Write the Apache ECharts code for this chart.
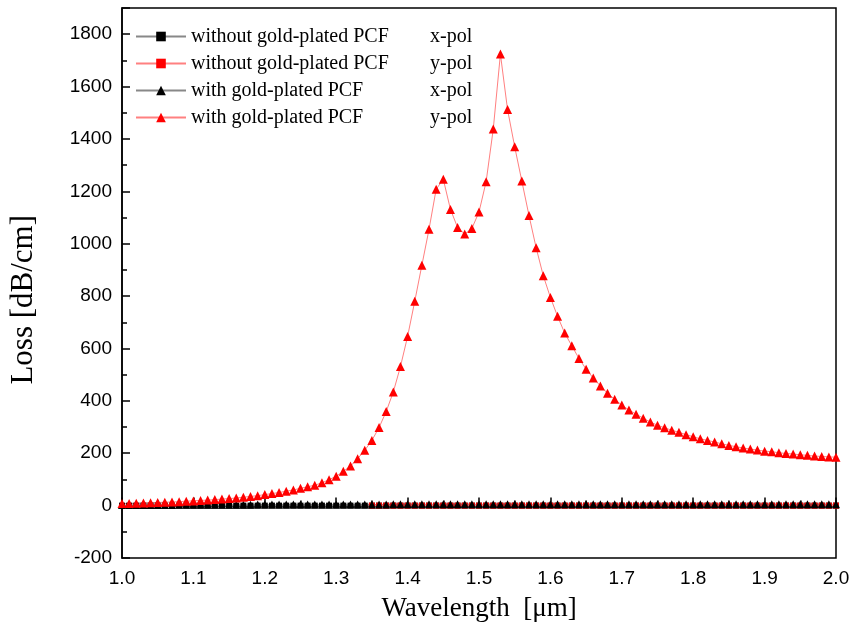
<!DOCTYPE html>
<html>
<head>
<meta charset="utf-8">
<script src="https://cdn.jsdelivr.net/npm/echarts@6/dist/echarts.min.js"></script>
<style>
  html, body { margin: 0; padding: 0; background: #fff; }
  #echart_show { width: 862px; height: 634px; }
</style>
</head>
<body>
<div id="echart_show"></div>
<script>
// wavelength (um), step 0.01
var wavelength = [
  1.00, 1.01, 1.02, 1.03, 1.04, 1.05, 1.06, 1.07, 1.08, 1.09,
  1.10, 1.11, 1.12, 1.13, 1.14, 1.15, 1.16, 1.17, 1.18, 1.19,
  1.20, 1.21, 1.22, 1.23, 1.24, 1.25, 1.26, 1.27, 1.28, 1.29,
  1.30, 1.31, 1.32, 1.33, 1.34, 1.35, 1.36, 1.37, 1.38, 1.39,
  1.40, 1.41, 1.42, 1.43, 1.44, 1.45, 1.46, 1.47, 1.48, 1.49,
  1.50, 1.51, 1.52, 1.53, 1.54, 1.55, 1.56, 1.57, 1.58, 1.59,
  1.60, 1.61, 1.62, 1.63, 1.64, 1.65, 1.66, 1.67, 1.68, 1.69,
  1.70, 1.71, 1.72, 1.73, 1.74, 1.75, 1.76, 1.77, 1.78, 1.79,
  1.80, 1.81, 1.82, 1.83, 1.84, 1.85, 1.86, 1.87, 1.88, 1.89,
  1.90, 1.91, 1.92, 1.93, 1.94, 1.95, 1.96, 1.97, 1.98, 1.99,
  2.00
];

// without gold-plated PCF, x-pol
var noGoldX = [
  0, 0, 0, 0, 0, 0, 0, 0, 0, 0,
  0, 0, 0, 0, 0, 0, 0, 0, 0, 0,
  0, 0, 0, 0, 0, 0, 0, 0, 0, 0,
  0, 0, 0, 0, 0, 0, 0, 0, 0, 0,
  0, 0, 0, 0, 0, 0, 0, 0, 0, 0,
  0, 0, 0, 0, 0, 0, 0, 0, 0, 0,
  0, 0, 0, 0, 0, 0, 0, 0, 0, 0,
  0, 0, 0, 0, 0, 0, 0, 0, 0, 0,
  0, 0, 0, 0, 0, 0, 0, 0, 0, 0,
  0, 0, 0, 0, 0, 0, 0, 0, 0, 0,
  0
];

// without gold-plated PCF, y-pol (only seen from 1.35 on)
var noGoldY = [
  null, null, null, null, null, null, null, null, null, null,
  null, null, null, null, null, null, null, null, null, null,
  null, null, null, null, null, null, null, null, null, null,
  null, null, null, null, null, 0, 0, 0, 0, 0,
  0, 0, 0, 0, 0, 0, 0, 0, 0, 0,
  0, 0, 0, 0, 0, 0, 0, 0, 0, 0,
  0, 0, 0, 0, 0, 0, 0, 0, 0, 0,
  0, 0, 0, 0, 0, 0, 0, 0, 0, 0,
  0, 0, 0, 0, 0, 0, 0, 0, 0, 0,
  0, 0, 0, 0, 0, 0, 0, 0, 0, 0,
  0
];

// with gold-plated PCF, x-pol
var goldX = [
  2, 2, 2, 2, 2, 2, 2, 2, 3, 3,
  3, 3, 3, 3, 3, 3, 3, 3, 3, 4,
  4, 4, 4, 4, 4, 4, 4, 4, 4, 4,
  4, 4, 4, 4, 4, 4, 4, 4, 5, 5,
  5, 5, 5, 5, 5, 5, 5, 5, 5, 5,
  5, 5, 5, 5, 5, 5, 5, 5, 5, 5,
  5, 5, 5, 5, 5, 5, 5, 5, 5, 5,
  5, 5, 5, 5, 5, 5, 5, 5, 5, 5,
  5, 5, 5, 5, 5, 5, 5, 5, 5, 5,
  5, 5, 5, 5, 5, 5, 5, 5, 5, 5,
  5
];

// with gold-plated PCF, y-pol
var goldY = [
  8, 8, 9, 10, 11, 12, 13, 14, 15, 17,
  18, 20, 21, 23, 25, 27, 29, 32, 35, 38,
  42, 46, 50, 55, 60, 66, 72, 78, 87, 99,
  112, 131, 151, 179, 211, 249, 298, 359, 434, 531,
  646, 780, 918, 1055, 1208, 1246, 1131, 1062, 1037, 1058,
  1121, 1237, 1438, 1724, 1512, 1370, 1239, 1108, 985, 878,
  795, 723, 659, 610, 562, 521, 487, 457, 429, 406,
  384, 365, 349, 334, 319, 307, 297, 288, 280, 271,
  263, 255, 249, 243, 236, 230, 225, 220, 216, 212,
  208, 206, 202, 199, 197, 194, 192, 189, 188, 186,
  185
];

var seriesNames = [
  'without gold-plated PCF|x-pol',
  'without gold-plated PCF|y-pol',
  'with gold-plated PCF|x-pol',
  'with gold-plated PCF|y-pol'
];

var toPairs = function (vals) {
  return wavelength.map(function (x, i) { return [x, vals[i]]; });
};

var my_chart = echarts.init(document.getElementById('echart_show'));

var option = {
  backgroundColor: '#fff',
  animation: false,
  grid: {
    left: 122, right: 26, top: 8, bottom: 76,
    show: true, borderColor: '#000', borderWidth: 1.5
  },
  // y axis title, placed by hand so it sits where the original has it
  graphic: [
    {
      type: 'text',
      left: 8,
      top: 215,
      rotation: Math.PI / 2,
      style: {
        text: 'Loss [dB/cm]',
        fill: '#000',
        font: '31px "Liberation Serif"'
      }
    }
  ],
  legend: {
    left: 130, top: 21,
    orient: 'vertical',
    itemWidth: 50, itemHeight: 12,
    itemGap: 6,
    data: seriesNames,
    formatter: function (name) {
      var p = name.split('|');
      return '{a|' + p[0] + '}{b|' + p[1] + '}';
    },
    textStyle: {
      color: '#000',
      fontFamily: 'Liberation Serif',
      fontSize: 20,
      lineHeight: 21,
      rich: {
        a: { width: 239, fontFamily: 'Liberation Serif', fontSize: 20, color: '#000' },
        b: { fontFamily: 'Liberation Serif', fontSize: 20, color: '#000' }
      }
    }
  },
  xAxis: {
    type: 'value',
    min: 1.0, max: 2.0, interval: 0.1,
    name: 'Wavelength  [\u03bcm]',
    nameLocation: 'middle',
    nameGap: 37,
    nameTextStyle: { color: '#000', fontFamily: 'Liberation Serif', fontSize: 27 },
    axisLine: { lineStyle: { color: '#000', width: 1.5 } },
    axisTick: { inside: true, length: 8, lineStyle: { color: '#000', width: 1.5 } },
    minorTick: { show: true, splitNumber: 2, length: 5, lineStyle: { color: '#000', width: 1.5 } },
    splitLine: { show: false },
    axisLabel: {
      margin: 11, color: '#000', fontFamily: 'Liberation Sans', fontSize: 19,
      formatter: function (v) { return v.toFixed(1); }
    }
  },
  yAxis: {
    type: 'value',
    min: -200, max: 1900, interval: 200,
    axisLine: { lineStyle: { color: '#000', width: 1.5 } },
    axisTick: { inside: true, length: 8, lineStyle: { color: '#000', width: 1.5 } },
    minorTick: { show: true, splitNumber: 2, length: 5, lineStyle: { color: '#000', width: 1.5 } },
    splitLine: { show: false },
    axisLabel: {
      margin: 10, color: '#000', fontFamily: 'Liberation Sans', fontSize: 19,
      showMaxLabel: false,
      formatter: function (v) { return String(v); }
    }
  },
  series: [
    {
      name: seriesNames[0], type: 'line',
      data: toPairs(noGoldX),
      symbol: 'rect', symbolSize: 6,
      itemStyle: { color: '#000' },
      lineStyle: { color: '#888', width: 1 }
    },
    {
      name: seriesNames[1], type: 'line',
      data: toPairs(noGoldY),
      symbol: 'rect', symbolSize: 6,
      itemStyle: { color: '#ff0000' },
      lineStyle: { color: '#ff8080', width: 1 }
    },
    {
      name: seriesNames[2], type: 'line',
      data: toPairs(goldX),
      symbol: 'triangle', symbolSize: 8,
      itemStyle: { color: '#000' },
      lineStyle: { color: '#888', width: 1 }
    },
    {
      name: seriesNames[3], type: 'line',
      data: toPairs(goldY),
      symbol: 'triangle', symbolSize: 9,
      itemStyle: { color: '#ff0000' },
      lineStyle: { color: '#ff8080', width: 1 }
    }
  ]
};

my_chart.setOption(option);
</script>
</body>
</html>
